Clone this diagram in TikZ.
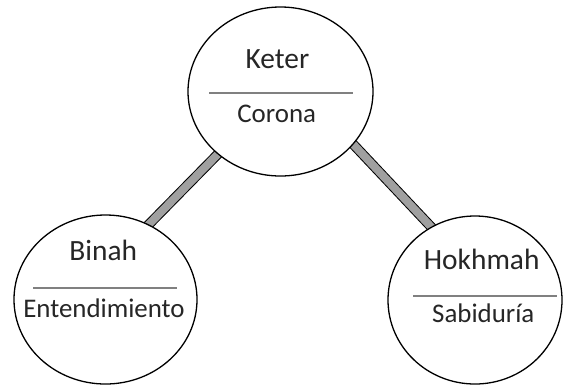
\documentclass[tikz,border=0pt]{standalone}
\usepackage{fontspec}
\setmainfont{Carlito}
\usetikzlibrary{shapes.geometric,backgrounds}
\definecolor{barfill}{HTML}{A0A0A0}
\definecolor{txt}{HTML}{262626}
\definecolor{rulegray}{HTML}{808080}
\begin{document}
\begin{tikzpicture}[x=1bp,y=-1bp,
  sefira/.style={ellipse, draw=black, line width=1.3bp, fill=white, inner sep=0pt},
  sefT/.style={anchor=base, text=txt, font=\fontsize{29.5}{30}\selectfont, inner sep=0pt},
  sefS/.style={anchor=base, text=txt, font=\fontsize{27}{28}\selectfont, inner sep=0pt},
  rulesep/.style={draw=rulegray, line width=1.1bp},
  barlink/.style={draw=black, line width=1bp, double=barfill, double distance=8bp, shorten <=-5bp, shorten >=-5bp}]
\useasboundingbox (0,0) rectangle (563,385);
\node[sefira, minimum width=185bp, minimum height=169bp] (keter) at (280.5,91.5) {};
\node[sefira, minimum width=183bp, minimum height=169bp] (binah) at (105.5,299.5) {};
\node[sefira, minimum width=174bp, minimum height=168bp] (hokhmah) at (475,300) {};
\begin{scope}[on background layer]
  \draw[barlink] (keter.225) -- (binah.60);
  \draw[barlink] (keter.-36) -- (hokhmah.121);
\end{scope}
% Keter
\node[sefT] (keterT) at (277.5,68.3) {Keter};
\draw[rulesep] (209,93) -- (353,93);
\node[sefS] (keterS) at (276.7,122.7) {Corona};
% Binah
\node[sefT] (binahT) at (103.3,260.7) {Binah};
\draw[rulesep] (33,288) -- (177,288);
\node[sefS] (binahS) at (104,317.3) {Entendimiento};
% Hokhmah
\node[sefT] (hokhmahT) at (481.7,269.3) {Hokhmah};
\draw[rulesep] (413,296) -- (557,296);
\node[sefS] (hokhmahS) at (483.3,322.7) {Sabiduría};
\end{tikzpicture}
\end{document}
